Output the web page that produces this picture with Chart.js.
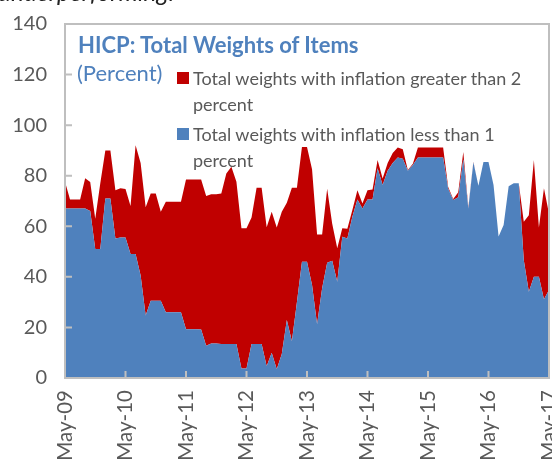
<!DOCTYPE html>
<html>
<head>
<meta charset="utf-8">
<script src="https://cdn.jsdelivr.net/npm/chart.js@4/dist/chart.umd.min.js"></script>
<style>
    body { margin: 0; background: #fff; }
    #wrap { position: relative; width: 552px; height: 466px; overflow: hidden; font-family: Lato, sans-serif; }
    #top-note { position: absolute; left: -2px; top: -23px; font-style: italic; font-size: 24.5px; color: #222; white-space: nowrap; }
    .title { position: absolute; left: 78px; top: 31px; font-weight: bold; font-size: 22px; color: #4f81bd; }
    .unit { position: absolute; left: 77px; top: 59px; font-size: 22px; color: #4f81bd; }
    .legend { position: absolute; left: 177px; font-size: 18px; color: #595959; line-height: 26px; }
    .legend span.box { position: absolute; left: 0; top: 7px; width: 12px; height: 12px; }
    .legend div { margin-left: 16px; }
</style>
</head>
<body>
<div id="wrap">
    <canvas id="weightsChart"></canvas>
    <div id="top-note">underperforming.</div>
    <div class="title">HICP: Total Weights of Items</div>
    <div class="unit">(Percent)</div>
    <div class="legend" style="top: 65px;"><span class="box" style="background:#c00000"></span><div>Total weights with inflation greater than 2<br>percent</div></div>
    <div class="legend" style="top: 121px;"><span class="box" style="background:#4f81bd"></span><div>Total weights with inflation less than 1<br>percent</div></div>
</div>
<script>
// monthly, May-09 .. May-17
const months = ['Jan', 'Feb', 'Mar', 'Apr', 'May', 'Jun', 'Jul', 'Aug', 'Sep', 'Oct', 'Nov', 'Dec'];
const yTicks = [0, 20, 40, 60, 80, 100, 120, 140];

// weights with inflation below 1 percent
const lowInflation = [
    67, 67, 67, 67, 67, 66, 51, 51, 71, 71, 55.2, 55.6,
    55.6, 49, 49, 40.5, 24.7, 30.6, 30.6, 30.6, 26, 26, 26, 26,
    19.3, 19.3, 19.3, 19.2, 12.8, 13.6, 13.6, 13.4, 13.4, 13.4, 13.4, 3.8,
    3.8, 13.4, 13.4, 13.4, 4.6, 10, 3.5, 9.5, 22.9, 14.5, 30, 46,
    46, 36.8, 21.3, 35.5, 45.6, 46.4, 38.1, 55.9, 55.2, 63.8, 70.6, 67,
    70.6, 70.6, 83, 76.3, 82, 85, 87.2, 86.7, 82, 84.2, 87.2, 87.2,
    87.2, 87.2, 87.2, 87.2, 74.8, 70.4, 71.5, 86.5, 67, 85.3, 76, 85.4,
    85.4, 76.3, 56, 60.5, 75.8, 77, 77, 46.6, 34.1, 40, 40, 31.1,
    34.8
];

// weights with inflation above 2 percent (stacked on top)
const highInflation = [
    10.6, 3.6, 3.6, 3.6, 12, 11.5, 12, 26, 19, 19, 19.1, 19.4,
    19.1, 19, 43, 44.5, 42.8, 42.4, 42.4, 35.1, 43.7, 43.7, 43.7, 43.7,
    59.2, 59.2, 59.2, 59.3, 59.2, 59.1, 59.1, 59.6, 67.5, 70.1, 64.2, 55.4,
    55.4, 50.1, 61.8, 61.8, 55, 55.7, 56, 56.2, 46.4, 60.7, 45.2, 45.4,
    45.4, 45.8, 35.5, 21.3, 29.2, 14.6, 13.2, 3.3, 3.8, 2.6, 3.7, 2,
    3.7, 3.9, 3.2, 2.6, 3, 4, 4, 3.8, 0.3, 0.5, 4, 4,
    4, 4, 4, 4, 0.7, 0.4, 2, 2.9, 0.5, 0.2, 0, 0,
    0, 0, 0, 0, 0, 0, 0, 15.2, 30.3, 46.2, 19.5, 43.9,
    30.2
];

const labels = [];
for (let i = 0; i < lowInflation.length; i++) {
    const m = (4 + i) % 12;
    const yr = 9 + Math.floor((4 + i) / 12);
    labels.push(months[m] + '-' + String(yr).padStart(2, '0'));
}

const frame = {
    id: 'frame',
    afterDatasetsDraw(chart) {
        const { ctx, chartArea: a, scales: { x, y } } = chart;
        ctx.save();
        ctx.strokeStyle = '#bfbfbf';
        ctx.lineWidth = 2;
        ctx.strokeRect(a.left, a.top, a.right - a.left, a.bottom - a.top);
        ctx.beginPath();
        yTicks.forEach(v => {
            const py = y.getPixelForValue(v);
            ctx.moveTo(a.left, py);
            ctx.lineTo(a.left + 7, py);
        });
        for (let i = 0; i < labels.length; i += 12) {
            const px = x.getPixelForValue(i);
            ctx.moveTo(px, a.bottom);
            ctx.lineTo(px, a.bottom - 7);
        }
        ctx.stroke();
        ctx.restore();
    }
};

const ctx = document.getElementById('weightsChart').getContext('2d');
new Chart(ctx, {
    type: 'line',
    data: {
        labels: labels,
        datasets: [{
            label: 'Total weights with inflation less than 1 percent',
            data: lowInflation,
            backgroundColor: '#4f81bd',
            borderWidth: 0,
            pointRadius: 0,
            tension: 0,
            fill: 'origin'
        }, {
            label: 'Total weights with inflation greater than 2 percent',
            data: highInflation,
            backgroundColor: '#c00000',
            borderWidth: 0,
            pointRadius: 0,
            tension: 0,
            fill: '-1'
        }]
    },
    options: {
        responsive: true,
        maintainAspectRatio: false,
        animation: false,
        layout: { padding: { top: 24, right: 3, left: 0, bottom: 0 } },
        plugins: { legend: { display: false }, tooltip: { enabled: false } },
        scales: {
            x: {
                offset: false,
                grid: { display: false, drawTicks: false },
                border: { display: false },
                ticks: {
                    autoSkip: false,
                    maxRotation: 90,
                    minRotation: 90,
                    padding: 12,
                    color: '#595959',
                    font: { family: 'Lato', size: 20.5 },
                    callback: (v, i) => (i % 12 === 0 ? labels[i] : '')
                },
                afterFit: s => {
                    s.height = 88;
                    s.paddingLeft = 0;
                    s.paddingRight = 0;
                }
            },
            y: {
                stacked: true,
                min: 0,
                max: 140,
                grid: { display: false, drawTicks: false },
                border: { display: false },
                ticks: {
                    stepSize: 20,
                    padding: 18,
                    color: '#595959',
                    font: { family: 'Lato', size: 20 }
                },
                afterFit: s => {
                    s.width = 65;
                    s.paddingTop = 0;
                    s.paddingBottom = 0;
                }
            }
        }
    },
    plugins: [frame]
});
</script>
</body>
</html>
